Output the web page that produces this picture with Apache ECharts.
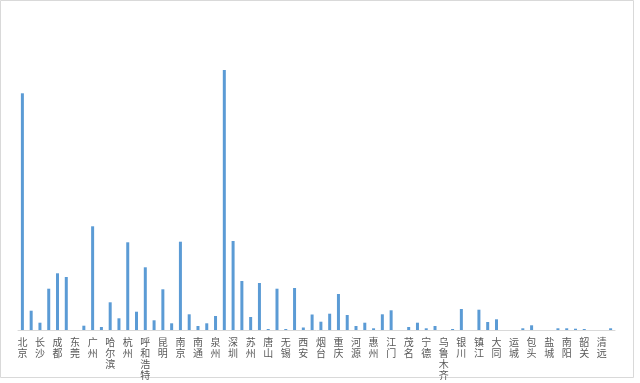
<!DOCTYPE html>
<html><head><meta charset="utf-8">
<script src="https://cdn.jsdelivr.net/npm/echarts@6/dist/echarts.min.js"></script>
<style>html,body{margin:0;padding:0;background:#fff}#c{width:640px;height:383px}</style>
</head><body><div id="c"></div>
<script>
// Categories: labelled every other bar; unlabelled bars have empty names
const categories = [
  "北京","","长沙","","成都","","东莞","","广州","","哈尔滨","","杭州","","呼和浩特","","昆明","",
  "南京","","南通","","泉州","","深圳","","苏州","","唐山","","无锡","","西安","",
  "烟台","","重庆","","河源","","惠州","","江门","","茂名","","宁德","","乌鲁木齐","",
  "银川","","镇江","","大同","","运城","","包头","","盐城","","南阳","","韶关","","清远",""
];
const values = [
  236.7,19.3,7.3,41.3,56.7,53,0,4.3,103.7,3,27.7,11.7,87.7,18.3,62.7,9.7,40.7,6.7,
  88.3,15.7,4,6.7,14,260,89,49,13,47,1,41.3,1,42,2.5,15.5,
  8.3,16.3,36,15,4,7.3,1.7,15.7,19.7,0,3,7.3,1.7,4,0,1,
  21,0,20.3,8,10.7,0,0,1.7,4.7,0,0,1.7,1.7,1.3,1,0,0,1.7
];
const chart = echarts.init(document.getElementById('c'));
chart.setOption({
  animation:false,
  backgroundColor:'#fff',
  graphic:[{type:'rect',shape:{x:0.5,y:0.5,width:633,height:377},style:{fill:null,stroke:'#d9d9d9',lineWidth:1},silent:true}],
  grid:{left:18,right:25,top:60,bottom:53,containLabel:false},
  xAxis:{type:'category',data:categories,
    axisLine:{lineStyle:{color:'#d9d9d9',width:1}},
    axisTick:{show:false},
    axisLabel:{interval:1,margin:7,color:'#595959',fontSize:10,lineHeight:11,
      fontFamily:'"Noto Sans CJK SC", sans-serif',verticalAlign:'top',
      formatter:v=>v.split('').join('\n')}},
  yAxis:{type:'value',min:0,max:270,show:false,splitLine:{show:false}},
  series:[{type:'bar',data:values,barWidth:3,itemStyle:{color:'#5b9bd5'}}]
});
</script></body></html>
